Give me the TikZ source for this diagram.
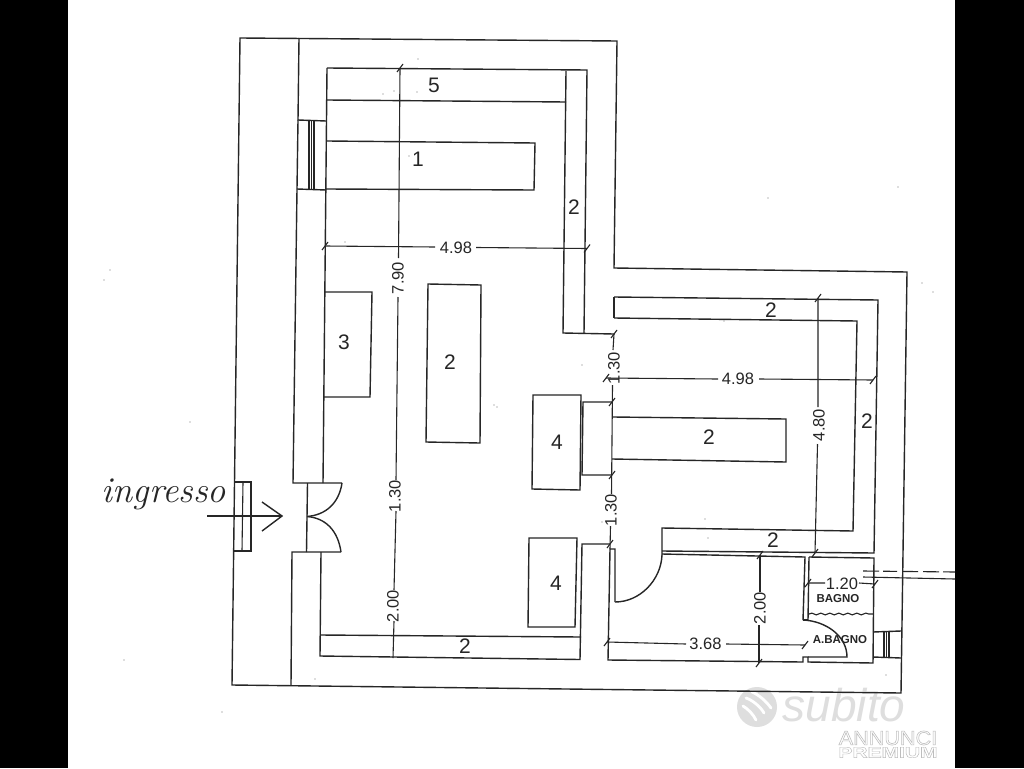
\documentclass[tikz,border=0pt]{standalone}
\usepackage{fontspec}
\setmainfont{Liberation Sans}
\newfontfamily\ingfont{Latin Modern Roman}
\usetikzlibrary{decorations.pathmorphing}
\definecolor{ink}{gray}{0.15}
\definecolor{wm}{gray}{0.87}
\tikzset{
  x=1pt,y=-1pt,
  wall/.style={draw=ink,line width=1.4pt,line join=miter},
  dim/.style={draw=ink,line width=1.1pt},
  lab/.style={text=ink,font=\fontsize{21}{21}\selectfont,inner sep=0pt},
  dimlab/.style={text=ink,font=\fontsize{16.5}{17}\selectfont,inner sep=0pt},
  dimlabv/.style={dimlab,rotate=90},
  roomlab/.style={text=ink,font=\bfseries\fontsize{11.5}{12}\selectfont,inner sep=0pt},
  speck/.style={fill=black!55,draw=none},
}
\newcommand{\tk}[2]{\draw[dim] (#1-3,#2+4) -- (#1+3,#2-4);}
\newcommand{\outlined}[1]{\special{pdf:code q 1 Tr 0.55 w 0.74 0.74 0.74 RG}#1\special{pdf:code Q}}
\begin{document}
\begin{tikzpicture}
\useasboundingbox (0,0) rectangle (1024,768);
\fill[white] (0,0) rectangle (1024,768);
\fill[black] (0,0) rectangle (68,768);
\fill[black] (955,0) rectangle (1024,768);
% watermark
\fill[wm] (757,707) circle (20);
\draw[white,line width=2.8pt,line cap=round] (746,698) .. controls (752,700) and (760,706) .. (764,713);
\draw[white,line width=2.8pt,line cap=round] (752,692) .. controls (759,695) and (766,701) .. (771,708);
\draw[white,line width=2.8pt,line cap=round] (743,706) .. controls (748,709) and (753,714) .. (756,720);
\node[inner sep=0pt,text=wm] (wmsub) at (844,705) {\fontsize{46}{46}\selectfont\itshape subito};
\node[inner sep=0pt] (wmann) at (888,738) {\scalebox{1.08}[1]{\fontsize{20}{20}\selectfont\outlined{ANNUNCI}}};
\node[inner sep=0pt] (wmpre) at (888,752.5) {\scalebox{1}[0.72]{\bfseries\fontsize{21}{21}\selectfont\outlined{PREMIUM}}};
% outer shell
\draw[wall] (240,38) -- (617,41) -- (614,268) -- (907,272) -- (901,693) -- (232,685) -- cycle;
% left wall outer face / window
\draw[wall] (299,38) -- (298,120) -- (326,121);
\draw[wall] (297,189) -- (326,190);
\draw[wall] (298,120) -- (297,189);
\draw[dim] (309,121) -- (309,189) (311.5,121) -- (311.5,189) (314,121) -- (314,190);
\draw[wall] (297,189) -- (293,483) -- (342,483);
\draw[wall] (307.5,483) -- (306.5,552);
\draw[wall] (341,552) -- (292,552) -- (291,685);
% door leaves
\draw[wall] (342,483) .. controls (339,503) and (326,515) .. (307,516.5);
\draw[wall] (341,552) .. controls (338,531) and (326,518) .. (307,516.5);
% main room
\draw[wall] (327,68) -- (587,70) -- (584,333);
\draw[wall] (327,68) -- (323,483);
\draw[wall] (321,552) -- (320,656) -- (580,659.5) -- (582,544) -- (610,544);
\draw[wall] (320.5,635) -- (581,637);
\draw[wall] (327,100) -- (566,102);
\draw[wall] (566,71) -- (563,333) -- (614,334);
% tables
\draw[wall] (327,141) -- (535,143) -- (534,190) -- (326,189);
\draw[wall] (428,284) -- (481,285) -- (480,443) -- (426,442) -- cycle;
\draw[wall] (325,292) -- (372,292) -- (370,397) -- (323,397);
\draw[wall] (533,395) -- (581,395) -- (580,490) -- (532,489) -- cycle;
\draw[wall] (529,538) -- (577,538) -- (575,627) -- (528,627) -- cycle;
\draw[wall] (612,402) -- (583,402) -- (582,475) -- (612,475);
\draw[wall] (613,417) -- (786,419) -- (786,462) -- (612,459);
% right room
\draw[wall] (614,297) -- (878,300) -- (874,553) -- (662,551);
\draw[wall] (614,318) -- (857,321) -- (853,531) -- (662,528) -- (662,555);
\draw[wall] (614,297) -- (614,318);
\draw[wall] (662,554) -- (805,557) -- (803,620);
\draw[wall] (809,557) -- (874,558) -- (873,663) -- (808,662) -- (808,657) -- (803,657) -- (803,662) -- (608,660) -- (610,549) -- (615,549) -- (615,602);
\draw[wall] (809,557) -- (808,620);
\draw[wall] (615,602) .. controls (640,602) and (661,580) .. (662,555);
\draw[wall] (803,620) .. controls (826,621) and (847,636) .. (847,657) -- (808,657);
\draw[wall] (803,620) -- (808,620);
\draw[dim,decorate,decoration={snake,amplitude=0.9pt,segment length=9pt}] (809,614) -- (873,614);
% right window
\draw[wall] (873,632) -- (901,631) (873,657) -- (901,658);
\draw[dim] (884,632) -- (884,657) (886.5,632) -- (886.5,657) (889,632) -- (889,657);
% service lines
\draw[dim,dash pattern=on 16pt off 4pt on 14pt off 5pt on 16pt off 5pt] (863,571) -- (955,572);
\draw[dim] (863,577) -- (955,579);
% entrance
\draw[dim] (235,482) -- (251,482) -- (251,551) -- (233,551);
\draw[dim] (243,482) -- (242,551);
\draw[dim] (207,516) -- (282,516);
\draw[wall] (262,502) -- (282,516) -- (262,531);
\node[inner sep=0pt,anchor=base west,text=ink] (ingresso) at (101.5,502) {\ingfont\itshape\fontsize{36.4}{36}\selectfont ingresso};
% dimension 7.90 / 1.30 / 2.00
\draw[dim] (400,68) -- (398.5,258) (398,297) -- (396,480) (396,511) -- (394,590) (394,621) -- (393,658);
\node[dimlabv] (d790) at (398,278) {7.90};
\node[dimlabv] (d130a) at (395,496) {1.30};
\node[dimlabv] (d200a) at (393,606) {2.00};
\tk{400}{68}
% dimension 4.98 upper
\draw[dim] (325,246) -- (435,247) (476,247.5) -- (587,248.5);
\node[dimlab] (d498a) at (456,248) {4.98};
\tk{325}{246}\tk{587}{248.5}
% dimension 1.30 right column
\draw[dim] (614,334) -- (613,350) (612.5,385) -- (611.5,494) (610.5,526) -- (610,549);
\node[dimlabv] (d130b) at (614,368) {1.30};
\node[dimlabv] (d130c) at (611,510) {1.30};
\tk{614}{334}\tk{612}{402}\tk{612}{475}\tk{610}{544}
% dimension 4.98 right
\draw[dim] (606,378) -- (718,379) (759,379) -- (873,380);
\node[dimlab] (d498b) at (738,379) {4.98};
\tk{606}{378}\tk{873}{380}
% dimension 4.80
\draw[dim] (818,298) -- (818,407) (817.5,444) -- (815,553);
\node[dimlabv] (d480) at (819,425) {4.80};
\tk{818}{298}\tk{815}{553}
% dimension 2.00 lower
\draw[dim] (760,555) -- (760,592) (759,625) -- (759,663);
\node[dimlabv] (d200b) at (760,608) {2.00};
\tk{760}{555}\tk{759}{663}
% dimension 3.68
\draw[dim] (607,642) -- (686,644) (726,644) -- (805,645);
\node[dimlab] (d368) at (705.5,644) {3.68};
\tk{607}{642}\tk{805}{645}
% dimension 1.20
\draw[dim] (808,583) -- (825,583) (859,583) -- (875,584);
\node[dimlab] (d120) at (842,583.5) {1.20};
\tk{808}{583}\tk{875}{584}
% labels
\node[lab] (l5) at (434,85) {5};
\node[lab] (l1) at (418,159) {1};
\node[lab] (l2a) at (574,207) {2};
\node[lab] (l2b) at (450,362) {2};
\node[lab] (l3) at (344,342) {3};
\node[lab] (l4a) at (557,442) {4};
\node[lab] (l4b) at (556,583) {4};
\node[lab] (l2c) at (771,310) {2};
\node[lab] (l2d) at (867,421) {2};
\node[lab] (l2e) at (709,437) {2};
\node[lab] (l2f) at (773,540) {2};
\node[lab] (l2g) at (465,646) {2};
\node[roomlab] (bagno) at (838,599) {BAGNO};
\node[roomlab] (abagno) at (840,640) {A.BAGNO};
% scan specks
\foreach \p in {(418,59),(383,94),(394,91),(417,92),(409,156),(345,242),(497,407),(494,405),(110,270),(104,280),(922,283),(933,292),(190,422),(124,660),(222,712),(315,679),(708,538),(705,519),(886,675),(898,187),(768,198),(724,321),(582,365),(602,522)}
  \fill[speck] \p circle (0.7);
\end{tikzpicture}
\end{document}
